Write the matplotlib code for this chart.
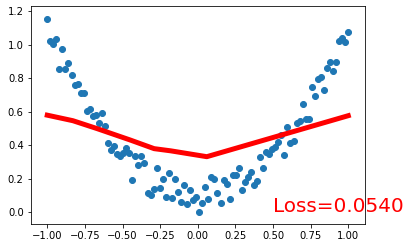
import matplotlib
matplotlib.use("Agg")
import matplotlib.pyplot as plt

# scatter data (x evenly spaced from -1 to 1, y)
x_data = [-1.000, -0.980, -0.960, -0.939, -0.919, -0.899, -0.879, -0.859, -0.838, -0.818,
          -0.798, -0.778, -0.758, -0.737, -0.717, -0.697, -0.677, -0.657, -0.636, -0.616,
          -0.596, -0.576, -0.556, -0.535, -0.515, -0.495, -0.475, -0.455, -0.434, -0.414,
          -0.394, -0.374, -0.354, -0.333, -0.313, -0.293, -0.273, -0.253, -0.232, -0.212,
          -0.192, -0.172, -0.152, -0.131, -0.111, -0.091, -0.071, -0.051, -0.030, -0.010,
          0.010, 0.030, 0.051, 0.071, 0.091, 0.111, 0.131, 0.152, 0.172, 0.192,
          0.212, 0.232, 0.253, 0.273, 0.293, 0.313, 0.333, 0.354, 0.374, 0.394,
          0.414, 0.434, 0.455, 0.475, 0.495, 0.515, 0.535, 0.556, 0.576, 0.596,
          0.616, 0.636, 0.657, 0.677, 0.697, 0.717, 0.737, 0.758, 0.778, 0.798,
          0.818, 0.838, 0.859, 0.879, 0.899, 0.919, 0.939, 0.960, 0.980, 1.000]
y_data = [1.152, 1.021, 1.005, 1.033, 0.854, 0.973, 0.854, 0.893, 0.818, 0.760,
          0.766, 0.714, 0.714, 0.607, 0.615, 0.575, 0.579, 0.531, 0.591, 0.515,
          0.416, 0.372, 0.396, 0.349, 0.338, 0.354, 0.382, 0.357, 0.193, 0.334,
          0.282, 0.339, 0.294, 0.117, 0.105, 0.140, 0.263, 0.143, 0.197, 0.093,
          0.235, 0.084, 0.197, 0.119, 0.063, 0.161, 0.048, 0.133, 0.073, 0.090,
          0.002, 0.053, 0.153, 0.078, 0.213, 0.197, 0.113, 0.053, 0.193, 0.169,
          0.078, 0.223, 0.223, 0.263, 0.133, 0.183, 0.209, 0.242, 0.163, 0.187,
          0.332, 0.263, 0.358, 0.350, 0.376, 0.388, 0.421, 0.461, 0.342, 0.507,
          0.412, 0.427, 0.535, 0.545, 0.647, 0.555, 0.555, 0.746, 0.694, 0.794,
          0.806, 0.730, 0.860, 0.899, 0.844, 0.899, 1.023, 1.039, 1.019, 1.075]

# prediction line (knots)
pred_x = [-1.0, -0.83, -0.67, -0.45, -0.29, -0.18, 0.06, 1.0]
pred_y = [0.58, 0.547, 0.50, 0.432, 0.38, 0.367, 0.332, 0.577]

loss = 0.0540

fig = plt.figure(figsize=(411 / 72, 248 / 72), dpi=72)
ax = fig.add_axes([0.0747, 0.0968, 0.8141, 0.879])
ax.scatter(x_data, y_data)
ax.plot(pred_x, pred_y, 'r-', lw=5)
ax.text(0.5, 0, 'Loss=%.4f' % loss, fontdict={'size': 20, 'color': 'red'})
ax.set_xlim(-1.11, 1.113)
ax.set_ylim(-0.07, 1.232)
ax.set_xticks([-1.0, -0.75, -0.5, -0.25, 0.0, 0.25, 0.5, 0.75, 1.0])
ax.set_yticks([0.0, 0.2, 0.4, 0.6, 0.8, 1.0, 1.2])

fig.savefig("out.png", dpi=72)
